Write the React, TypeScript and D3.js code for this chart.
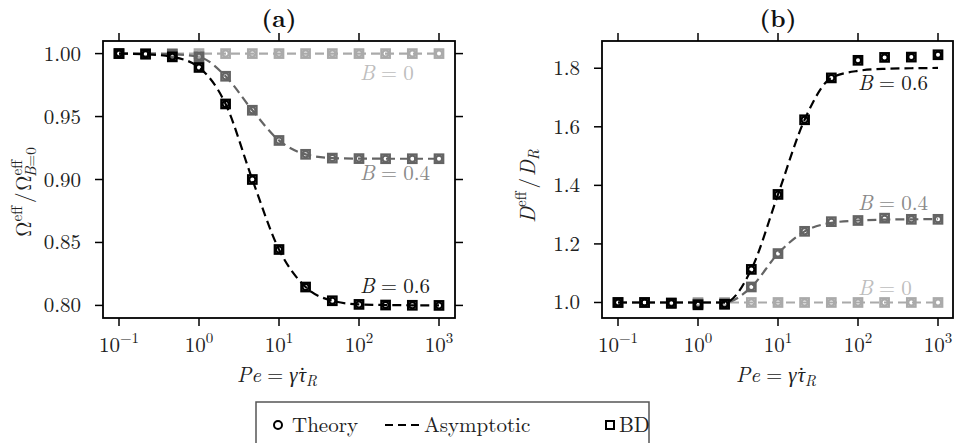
import React from "react";
import * as d3 from "d3";

const PE = [0.1, 0.215, 0.464, 1, 2.15, 4.64, 10, 21.5, 46.4, 100, 215, 464, 1000];
const X_TICKS = [0.1, 1, 10, 100, 1000];
const X_TICK_EXP = ["\u22121", "0", "1", "2", "3"];

// Panel (a): Omega_eff / Omega_eff(B=0)
const omegaTheoryB0 = [1, 1, 1, 1, 1, 1, 1, 1, 1, 1, 1, 1, 1];
const omegaTheoryB04 = [1.0, 1.0, 0.9995, 0.9974, 0.982, 0.955, 0.931, 0.92, 0.917, 0.9166, 0.9165, 0.9165, 0.9165];
const omegaTheoryB06 = [1.0, 0.9995, 0.9974, 0.989, 0.96, 0.9, 0.8444, 0.8146, 0.8037, 0.8008, 0.8003, 0.8001, 0.8];
const omegaAsymB0 = [1, 1, 1, 1, 1, 1, 1, 1, 1, 1, 1, 1, 1];
const omegaAsymB04 = [1.0, 1.0, 0.9995, 0.9974, 0.982, 0.955, 0.931, 0.92, 0.917, 0.9166, 0.9165, 0.9165, 0.9165];
const omegaAsymB06 = [1.0, 0.9995, 0.9974, 0.989, 0.96, 0.9, 0.8444, 0.8146, 0.8037, 0.8008, 0.8003, 0.8001, 0.8];
const omegaBDB0 = [1, 1, 1, 1, 1, 1, 1, 1, 1, 1, 1, 1, 1];
const omegaBDB04 = [1.0, 1.0, 0.9995, 0.9974, 0.982, 0.955, 0.931, 0.92, 0.917, 0.9166, 0.9165, 0.9165, 0.9165];
const omegaBDB06 = [1.0, 0.9995, 0.9974, 0.989, 0.96, 0.9, 0.8444, 0.8146, 0.8037, 0.8008, 0.8003, 0.8001, 0.8];
const omegaTicks = [0.8, 0.85, 0.9, 0.95, 1.0];

// Panel (b): D_eff / D_R
const dTheoryB0 = [1, 1, 1, 1, 1, 1, 1, 1, 1, 1, 1, 1, 1];
const dTheoryB04 = [1.0, 1.0, 0.998, 0.995, 0.995, 1.053, 1.167, 1.243, 1.276, 1.28, 1.286, 1.284, 1.284];
const dTheoryB06 = [1.0, 1.0, 0.997, 0.992, 0.994, 1.113, 1.369, 1.624, 1.767, 1.827, 1.837, 1.838, 1.846];
const dAsymB0 = [1, 1, 1, 1, 1, 1, 1, 1, 1, 1, 1, 1, 1];
const dAsymB04 = [1.0, 1.0, 1.0, 1.0, 1.0, 1.053, 1.167, 1.243, 1.272, 1.28, 1.283, 1.284, 1.285];
const dAsymB06 = [1.0, 1.0, 1.0, 1.0, 1.0, 1.113, 1.369, 1.624, 1.767, 1.791, 1.798, 1.8, 1.801];
const dBDB0 = [1, 1, 1, 1, 1, 1, 1, 1, 1, 1, 1, 1, 1];
const dBDB04 = [1.0, 1.0, 0.998, 0.995, 0.995, 1.053, 1.167, 1.243, 1.276, 1.28, 1.288, 1.284, 1.284];
const dBDB06 = [1.0, 1.0, 0.997, 0.992, 0.994, 1.113, 1.369, 1.624, 1.767, 1.827, 1.837, 1.838, 1.846];
const dTicks = [1.0, 1.2, 1.4, 1.6, 1.8];

const B_LABELS = ["B", "B", "B"];
const B_VALUES = ["0", "0.4", "0.6"];
const SERIES_COLORS = ["#aaaaaa", "#646464", "#000000"];
const LABEL_COLORS = ["#bdbdbd", "#8a8a8a", "#1a1a1a"];
const LEGEND_LABELS = ["Theory", "Asymptotic", "BD"];

const FONT =
  "'Latin Modern Roman', 'CMU Serif', 'Computer Modern', 'Liberation Serif', 'DejaVu Serif', 'Nimbus Roman', 'TeX Gyre Termes', FreeSerif, 'Noto Serif', 'Times New Roman', Times, Georgia, serif";
const FS = 21;
const FS_SMALL = 15;
const W = 954;
const H = 443;
const TOP = 41;
const BOTTOM = 318;

type Series = { theory: number[]; asym: number[]; bd: number[]; color: string };

function Panel(props: {
  x0: number;
  x1: number;
  yDomain: [number, number];
  yTicks: number[];
  yFmt: (v: number) => string;
  series: Series[];
  title: string;
  labels: { x: number; y: number; color: string; value: string }[];
  ylabel: React.ReactNode;
  ylabelX: number;
  ylabelY: number;
}) {
  const { x0, x1, yDomain, yTicks, yFmt, series, title, labels, ylabel, ylabelX, ylabelY } = props;
  const xs = d3.scaleLog().domain([Math.pow(10, -1.2), Math.pow(10, 3.2)]).range([x0, x1]);
  const ys = d3.scaleLinear().domain(yDomain).range([BOTTOM, TOP]);
  const line = d3
    .line<number>()
    .x((_, i) => xs(PE[i]))
    .y((d) => ys(d))
    .curve(d3.curveMonotoneX);
  const cx = (x0 + x1) / 2;
  const frameRight = Math.min(x1, W - 1);
  return (
    <g>
      {series.map((s, k) => (
        <g key={k}>
          <path d={line(s.asym) || ""} fill="none" stroke={s.color} strokeWidth={2.2} strokeDasharray="9,5" />
          {s.bd.map((v, i) => (
            <rect
              key={"b" + i}
              x={xs(PE[i]) - 4.2}
              y={ys(v) - 4.2}
              width={8.4}
              height={8.4}
              fill="none"
              stroke={s.color}
              strokeWidth={2.3}
            />
          ))}
          {s.theory.map((v, i) => (
            <circle key={"t" + i} cx={xs(PE[i])} cy={ys(v)} r={3} fill="none" stroke={s.color} strokeWidth={2} />
          ))}
        </g>
      ))}
      {labels.map((l, k) => (
        <text key={k} x={l.x} y={l.y} fill={l.color} style={{ fontFamily: FONT }} fontSize={FS}>
          <tspan fontStyle="italic">{B_LABELS[k]}</tspan>
          <tspan dx={6}>=</tspan>
          <tspan dx={6}>{l.value}</tspan>
        </text>
      ))}
      <rect x={x0} y={TOP} width={frameRight - x0} height={BOTTOM - TOP} fill="none" stroke="#000" strokeWidth={1.8} />
      {X_TICKS.map((t, i) => (
        <g key={i}>
          <line x1={xs(t)} x2={xs(t)} y1={BOTTOM} y2={BOTTOM + 8} stroke="#000" strokeWidth={1.5} />
          <line x1={xs(t)} x2={xs(t)} y1={TOP} y2={TOP - 8} stroke="#000" strokeWidth={1.5} />
          <text x={xs(t)} y={352} textAnchor="middle" style={{ fontFamily: FONT }} fontSize={FS} fill="#222">
            10
            <tspan fontSize={FS_SMALL} dy={-9}>
              {X_TICK_EXP[i]}
            </tspan>
          </text>
        </g>
      ))}
      {yTicks.map((t, i) => (
        <g key={i}>
          <line x1={x0} x2={x0 - 8} y1={ys(t)} y2={ys(t)} stroke="#000" strokeWidth={1.5} />
          <line x1={x1} x2={x1 + 8} y1={ys(t)} y2={ys(t)} stroke="#000" strokeWidth={1.5} />
          <text x={x0 - 22} y={ys(t) + 7} textAnchor="end" style={{ fontFamily: FONT }} fontSize={FS} fill="#222">
            {yFmt(t)}
          </text>
        </g>
      ))}
      <text x={cx} y={27} textAnchor="middle" style={{ fontFamily: FONT }} fontSize={24} fontWeight="bold" fill="#111">
        {title}
      </text>
      <text x={cx - 2} y={382} textAnchor="middle" style={{ fontFamily: FONT }} fontSize={FS} fill="#222">
        <tspan fontStyle="italic">Pe</tspan>
        <tspan dx={6}>=</tspan>
        <tspan dx={6} fontStyle="italic">{"\u03B3\u0307"}</tspan>
        <tspan dx={1} fontStyle="italic">{"\u03C4"}</tspan>
        <tspan fontSize={FS_SMALL} fontStyle="italic" dy={4}>R</tspan>
      </text>
      <g transform={`translate(${ylabelX},${ylabelY}) rotate(-90)`}>{ylabel}</g>
    </g>
  );
}

export default function App() {
  const omegaSeries: Series[] = [
    { theory: omegaTheoryB0, asym: omegaAsymB0, bd: omegaBDB0, color: SERIES_COLORS[0] },
    { theory: omegaTheoryB04, asym: omegaAsymB04, bd: omegaBDB04, color: SERIES_COLORS[1] },
    { theory: omegaTheoryB06, asym: omegaAsymB06, bd: omegaBDB06, color: SERIES_COLORS[2] },
  ];
  const dSeries: Series[] = [
    { theory: dTheoryB0, asym: dAsymB0, bd: dBDB0, color: SERIES_COLORS[0] },
    { theory: dTheoryB04, asym: dAsymB04, bd: dBDB04, color: SERIES_COLORS[1] },
    { theory: dTheoryB06, asym: dAsymB06, bd: dBDB06, color: SERIES_COLORS[2] },
  ];
  const omegaLabel = (
    <text textAnchor="middle" style={{ fontFamily: FONT }} fontSize={FS} fill="#222">
      {"\u03A9"}
      <tspan fontSize={FS_SMALL} dy={-9}>eff</tspan>
      <tspan dy={9} dx={3}>/</tspan>
      <tspan dx={2}>{"\u03A9"}</tspan>
      <tspan fontSize={FS_SMALL} dy={-9}>eff</tspan>
      <tspan fontSize={FS_SMALL} dy={14} dx={-17} fontStyle="italic">B</tspan>
      <tspan fontSize={FS_SMALL} dy={0}>=0</tspan>
    </text>
  );
  const dLabel = (
    <text textAnchor="middle" style={{ fontFamily: FONT }} fontSize={FS} fill="#222">
      <tspan fontStyle="italic">D</tspan>
      <tspan fontSize={FS_SMALL} dy={-9}>eff</tspan>
      <tspan dy={9} dx={3}>/</tspan>
      <tspan dx={2} fontStyle="italic">D</tspan>
      <tspan fontSize={FS_SMALL} dy={4} fontStyle="italic">R</tspan>
    </text>
  );
  return (
    <svg
      width={W}
      height={H}
      viewBox={`0 0 ${W} ${H}`}
      style={{ position: "absolute", left: 0, top: 0, background: "#fff" }}
    >
      <rect x={0} y={0} width={W} height={H} fill="#fff" />
      <Panel
        x0={103}
        x1={455}
        yDomain={[0.79, 1.01]}
        yTicks={omegaTicks}
        yFmt={(v) => v.toFixed(2)}
        series={omegaSeries}
        title="(a)"
        labels={[
          { x: 360, y: 80, color: LABEL_COLORS[0], value: B_VALUES[0] },
          { x: 360, y: 180, color: LABEL_COLORS[1], value: B_VALUES[1] },
          { x: 360, y: 293, color: LABEL_COLORS[2], value: B_VALUES[2] },
        ]}
        ylabel={omegaLabel}
        ylabelX={31}
        ylabelY={192}
      />
      <Panel
        x0={602}
        x1={954}
        yDomain={[0.947, 1.893]}
        yTicks={dTicks}
        yFmt={(v) => v.toFixed(1)}
        series={dSeries}
        title="(b)"
        labels={[
          { x: 858, y: 295, color: LABEL_COLORS[0], value: B_VALUES[0] },
          { x: 858, y: 210, color: LABEL_COLORS[1], value: B_VALUES[1] },
          { x: 858, y: 90, color: LABEL_COLORS[2], value: B_VALUES[2] },
        ]}
        ylabel={dLabel}
        ylabelX={535}
        ylabelY={186}
      />
      <g style={{ fontFamily: FONT }} fontSize={FS} fill="#222">
        <rect x={256} y={402} width={393} height={60} fill="#fff" stroke="#555" strokeWidth={1.5} />
        <circle cx={278} cy={425} r={4} fill="none" stroke="#000" strokeWidth={2} />
        <text x={292} y={432}>{LEGEND_LABELS[0]}</text>
        <line x1={385} x2={419} y1={425} y2={425} stroke="#000" strokeWidth={2} strokeDasharray="8,5" />
        <text x={424} y={432}>{LEGEND_LABELS[1]}</text>
        <rect x={606} y={421} width={8} height={8} fill="none" stroke="#000" strokeWidth={2} />
        <text x={619} y={432}>{LEGEND_LABELS[2]}</text>
      </g>
    </svg>
  );
}
